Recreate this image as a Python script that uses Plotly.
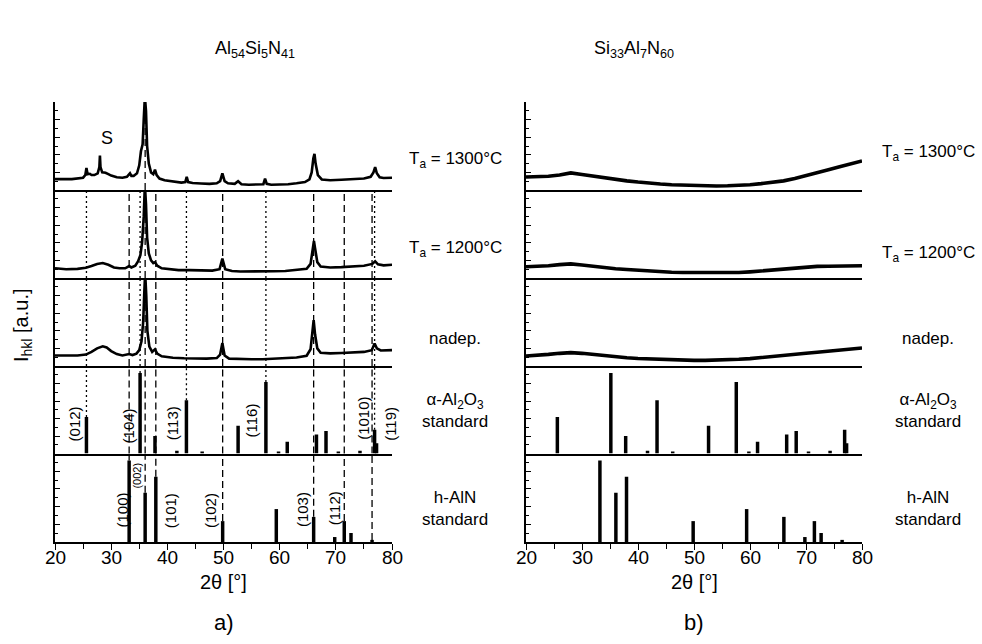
import plotly.graph_objects as go
from plotly.subplots import make_subplots

FONT = "Liberation Sans, Arial, Helvetica, sans-serif"

# ---------------- data (2theta in degrees, intensity in arbitrary units) ----------------
# a) Al54Si5N41, Ta = 1300 C
tth_a1 = [20, 21, 22, 23, 24, 25, 25.4, 25.6, 25.8, 26.2, 26.5, 27, 27.6, 27.9, 28.0, 28.1, 28.4, 29, 29.5,
          30, 31, 32, 32.8, 33.1, 33.35, 33.6, 34, 34.6, 35.0, 35.3, 35.6, 35.8, 36.0, 36.2, 36.4, 36.7,
          37.1, 37.5, 37.8, 38.1, 38.6, 39.5, 41, 42.5, 43.2, 43.45, 43.7, 44.5, 46, 47.5, 48.8, 49.4,
          49.8, 50.2, 50.8, 52, 52.6, 53.2, 54.5, 56, 57.1, 57.4, 57.7, 58.5, 60, 61.5, 63, 64.5, 65.3,
          65.7, 66.0, 66.2, 66.4, 66.8, 67.5, 69, 71, 73, 75, 76.2, 76.7, 77.0, 77.3, 77.8, 78.5, 80]
int_a1 = [0.62, 0.6, 0.62, 0.62, 0.65, 0.7, 0.85, 1.25, 0.9, 0.92, 0.85, 0.85, 0.95, 1.3, 1.95, 1.3, 1.0, 0.98, 0.9,
          0.82, 0.72, 0.7, 0.75, 0.85, 0.95, 0.8, 0.8, 0.95, 1.4, 2.2, 2.6, 4.0, 5.3, 4.5, 2.5, 1.5,
          1.0, 0.9, 1.15, 0.85, 0.65, 0.55, 0.48, 0.42, 0.45, 0.75, 0.45, 0.4, 0.37, 0.35, 0.38, 0.5,
          0.95, 0.5, 0.38, 0.35, 0.5, 0.33, 0.3, 0.3, 0.33, 0.65, 0.35, 0.3, 0.3, 0.33, 0.38, 0.45, 0.6,
          1.0, 1.8, 2.05, 1.5, 0.85, 0.6, 0.55, 0.58, 0.6, 0.65, 0.75, 1.0, 1.3, 0.95, 0.72, 0.68, 0.7]

# a) Al54Si5N41, Ta = 1200 C
tth_a2 = [20, 22, 24, 25.5, 26.5, 27.5, 28.5, 29.5, 30.5, 31.5, 32.5, 33.2, 33.6, 34.3, 34.8, 35.2, 35.5,
          35.8, 36.0, 36.2, 36.4, 36.7, 37.1, 37.5, 37.8, 38.2, 39, 40.5, 42, 44, 46, 48, 49.3, 49.8, 50.3,
          51.5, 53, 55, 57, 59, 61, 63, 64.8, 65.5, 65.9, 66.1, 66.3, 66.7, 67.3, 69, 71, 73, 75, 76.5,
          77.0, 77.5, 78.5, 80]
int_a2 = [0.55, 0.5, 0.52, 0.58, 0.68, 0.8, 0.85, 0.75, 0.6, 0.55, 0.55, 0.68, 0.6, 0.7, 0.95, 1.3, 2.0,
          3.5, 5.3, 4.2, 2.3, 1.4, 1.0, 0.85, 0.9, 0.7, 0.55, 0.48, 0.45, 0.45, 0.42, 0.42, 0.5, 1.1, 0.5,
          0.4, 0.37, 0.36, 0.36, 0.38, 0.4, 0.45, 0.52, 0.8, 1.6, 2.1, 1.7, 0.9, 0.65, 0.6, 0.62, 0.65, 0.7, 0.8,
          0.95, 0.78, 0.72, 0.75]

# a) Al54Si5N41, as deposited
tth_a3 = [20, 22, 24, 25.5, 26.5, 27.5, 28.5, 29.2, 30, 31, 32, 33.2, 33.8, 34.5, 35.0, 35.4, 35.7, 35.9,
          36.05, 36.25, 36.45, 36.8, 37.3, 37.8, 38.2, 39, 41, 43, 45, 47, 48.8, 49.4, 49.8, 50.2, 51, 53,
          55, 57, 59, 61, 63, 64.8, 65.5, 65.85, 66.05, 66.3, 66.7, 67.3, 69, 71, 73, 75, 76.4, 76.9, 77.3,
          78, 80]
int_a3 = [0.6, 0.58, 0.6, 0.65, 0.8, 1.0, 1.12, 1.05, 0.85, 0.68, 0.6, 0.68, 0.62, 0.7, 0.9, 1.4, 2.5, 4.2,
          5.3, 4.0, 2.0, 1.1, 0.8, 0.95, 0.7, 0.55, 0.47, 0.44, 0.42, 0.42, 0.45, 0.65, 1.3, 0.6, 0.42, 0.38,
          0.38, 0.38, 0.4, 0.42, 0.48, 0.58, 0.95, 2.0, 2.6, 1.8, 1.0, 0.75, 0.72, 0.74, 0.76, 0.8, 0.9, 1.28, 1.0,
          0.88, 0.9]

# b) Si33Al7N60 curves
tth_b = [20, 22, 24, 26, 28, 30, 32, 34, 36, 38, 40, 42, 44, 46, 48, 50, 52, 54, 56, 58, 60, 62, 64, 66,
         68, 70, 72, 74, 76, 78, 80]
int_b1 = [0.74, 0.75, 0.78, 0.85, 0.97, 0.88, 0.78, 0.68, 0.6, 0.52, 0.45, 0.38, 0.34, 0.3, 0.27, 0.26,
          0.24, 0.23, 0.24, 0.26, 0.3, 0.36, 0.42, 0.52, 0.65, 0.8, 0.98, 1.15, 1.32, 1.5, 1.65]
int_b2 = [0.64, 0.66, 0.7, 0.76, 0.8, 0.74, 0.66, 0.6, 0.53, 0.48, 0.43, 0.4, 0.36, 0.33, 0.31, 0.3, 0.29,
          0.29, 0.3, 0.31, 0.35, 0.4, 0.46, 0.52, 0.58, 0.63, 0.66, 0.67, 0.68, 0.68, 0.7]
int_b3 = [0.57, 0.6, 0.66, 0.72, 0.76, 0.72, 0.65, 0.58, 0.52, 0.47, 0.43, 0.4, 0.37, 0.35, 0.33, 0.32,
          0.32, 0.33, 0.35, 0.38, 0.42, 0.47, 0.53, 0.6, 0.66, 0.72, 0.78, 0.85, 0.92, 0.98, 1.02]

# standards (stick patterns)
alox_pos = [25.6, 35.15, 37.8, 41.7, 43.4, 46.2, 52.6, 57.55, 59.8, 61.35, 66.55, 68.25, 70.45, 74.3, 76.9, 77.25]
alox_int = [2.09, 4.6, 1.0, 0.16, 3.04, 0.12, 1.58, 4.08, 0.12, 0.67, 1.09, 1.28, 0.12, 0.16, 1.35, 0.58]
aln_pos = [33.2, 36.05, 37.95, 49.85, 59.4, 66.05, 69.8, 71.5, 72.7, 76.45]
aln_int = [4.6, 2.78, 3.69, 1.18, 1.86, 1.42, 0.28, 1.18, 0.51, 0.12]

# reflections marked by guide lines in panel a)
alox_marked = [25.6, 35.15, 43.4, 57.55, 76.9]
aln_marked = [33.2, 36.05, 37.95, 49.85, 66.05, 71.5, 76.45]

# hkl labels
alox_hkl = ["(012)", "(104)", "(113)", "(116)", "(1010)", "(119)"]
alox_hkl_x = [23.44, 33.1, 41.06, 55.0, 74.9, 79.6]
alox_hkl_y = [1.68, 1.58, 1.75, 1.86, 2.0, 1.68]
aln_hkl = ["(100)", "(002)", "(101)", "(102)", "(103)", "(112)"]
aln_hkl_x = [31.93, 34.65, 40.6, 47.7, 64.03, 69.67]
aln_hkl_y = [1.78, 3.77, 1.78, 1.78, 1.82, 1.91]

x_tick_vals = [20, 30, 40, 50, 60, 70, 80]
x_tick_text = ["20", "30", "40", "50", "60", "70", "80"]

row_labels = ["T<sub>a</sub> = 1300°C", "T<sub>a</sub> = 1200°C", "nadep.",
              "α-Al<sub>2</sub>O<sub>3</sub><br>standard", "h-AlN<br>standard"]

# ---------------- figure ----------------
W, H = 982, 644
fig = make_subplots(rows=5, cols=2)

YMAX = 5.0
edges_px = [102, 190, 278, 366, 453.5, 542]
xdom = {1: [55 / W, 392 / W], 2: [526 / W, 862 / W]}


def axn(r, c):
    return (r - 1) * 2 + c


def key(kind, n):
    return kind if n == 1 else f"{kind}{n}"


def vlines(positions, bottoms, top):
    xs, ys = [], []
    for p, b in zip(positions, bottoms):
        xs += [p, p, None]
        ys += [b, top, None]
    return xs, ys


dash_style = dict(color="black", width=1.3, dash="7px,4px")
dot_style = dict(color="black", width=1.3, dash="2px,3px")

for r in (1, 2, 3, 4, 5):
    if r == 1:
        pos = [36.05]
        bots = [0]
    elif r == 5:
        pos = aln_marked
        bots = [aln_int[aln_pos.index(p)] for p in aln_marked]
    else:
        pos = aln_marked
        bots = [0] * len(aln_marked)
    xs, ys = vlines(pos, bots, YMAX)
    fig.add_trace(go.Scatter(x=xs, y=ys, mode="lines", line=dash_style, showlegend=False,
                             hoverinfo="skip"), row=r, col=1)
    if r in (2, 3, 4):
        if r == 4:
            bots = [alox_int[alox_pos.index(p)] for p in alox_marked]
        else:
            bots = [0] * len(alox_marked)
        xs, ys = vlines(alox_marked, bots, YMAX)
        fig.add_trace(go.Scatter(x=xs, y=ys, mode="lines", line=dot_style, showlegend=False,
                                 hoverinfo="skip"), row=r, col=1)

curves_a = [(tth_a1, int_a1), (tth_a2, int_a2), (tth_a3, int_a3)]
curves_b = [(tth_b, int_b1), (tth_b, int_b2), (tth_b, int_b3)]
for i, (x, y) in enumerate(curves_a):
    fig.add_trace(go.Scatter(x=x, y=y, mode="lines", line=dict(color="black", width=2.6),
                             showlegend=False), row=i + 1, col=1)
for i, (x, y) in enumerate(curves_b):
    fig.add_trace(go.Scatter(x=x, y=y, mode="lines", line=dict(color="black", width=3.6),
                             showlegend=False), row=i + 1, col=2)

for c in (1, 2):
    fig.add_trace(go.Bar(x=alox_pos, y=alox_int, width=0.62, marker=dict(color="black", line=dict(width=0)),
                         showlegend=False), row=4, col=c)
    fig.add_trace(go.Bar(x=aln_pos, y=aln_int, width=0.62, marker=dict(color="black", line=dict(width=0)),
                         showlegend=False), row=5, col=c)

lay = {}
for r in range(1, 6):
    for c in (1, 2):
        n = axn(r, c)
        ydom = [1 - edges_px[r] / H, 1 - edges_px[r - 1] / H]
        xa = dict(domain=xdom[c], range=[20, 80], showline=True, linecolor="black", linewidth=1.8,
                  showgrid=False, zeroline=False, mirror=False, fixedrange=True, automargin=False,
                  showticklabels=False)
        if r == 5:
            xa.update(ticks="outside", ticklen=6, tickwidth=1.3, tickcolor="black",
                      tickvals=x_tick_vals,
                      minor=dict(ticks="outside", ticklen=5, tickwidth=1.3, tickcolor="black", dtick=5))
        else:
            xa.update(ticks="")
        ya = dict(domain=ydom, range=[0, YMAX], showline=True, linecolor="black", linewidth=1.5,
                  showgrid=False, zeroline=False, ticks="inside", ticklen=5, tickwidth=1, tickcolor="black",
                  dtick=1, tick0=0, showticklabels=False, fixedrange=True, automargin=False,
                  minor=dict(ticks="inside", ticklen=3, tickwidth=1, tickcolor="black", dtick=0.5))
        lay[key("xaxis", n)] = xa
        lay[key("yaxis", n)] = ya
fig.update_layout(**lay)

ann = []


def add_text(text, x, y, size, xref="paper", yref="paper", angle=0):
    ann.append(dict(text=text, x=x, y=y, xref=xref, yref=yref, showarrow=False, textangle=angle,
                    xanchor="center", yanchor="middle",
                    font=dict(family=FONT, size=size, color="black")))


# x tick labels (placed close to the axis, as in the original)
for xr in ("x9", "x10"):
    for v, t in zip(x_tick_vals, x_tick_text):
        add_text(t, v, 1 - 557 / H, 19, xr, "paper")

for t, x, y in zip(alox_hkl, alox_hkl_x, alox_hkl_y):
    add_text(t, x, y, 15, "x7", "y7", -90)
for t, x, y in zip(aln_hkl, aln_hkl_x, aln_hkl_y):
    add_text(t, x, y, 11 if t == "(002)" else 15, "x9", "y9", -90)
add_text("S", 29.2, 2.94, 18, "x", "y")

left_y = [160, 249, 338, 410, 508]
right_y = [153, 254, 338, 410, 508]
for t, yl, yr in zip(row_labels, left_y, right_y):
    add_text(t, 455 / W, 1 - yl / H, 17)
    add_text(t, 928 / W, 1 - yr / H, 17)

add_text("Al<sub>54</sub>Si<sub>5</sub>N<sub>41</sub>", 255 / W, 1 - 50 / H, 18)
add_text("Si<sub>33</sub>Al<sub>7</sub>N<sub>60</sub>", 634 / W, 1 - 50 / H, 18)
for cx, lab in ((223.5, "a)"), (694, "b)")):
    add_text("2θ [°]", cx / W, 1 - 582 / H, 20)
    add_text(lab, cx / W, 1 - 622 / H, 22)
add_text("I<sub>hkl</sub> [a.u.]", 22 / W, 1 - 325 / H, 20, angle=-90)

fig.update_layout(width=W, height=H, margin=dict(l=0, r=0, t=0, b=0), paper_bgcolor="white",
                  plot_bgcolor="white", annotations=ann, showlegend=False, barmode="overlay",
                  font=dict(family=FONT, color="black"))

fig.write_html("out.html")
